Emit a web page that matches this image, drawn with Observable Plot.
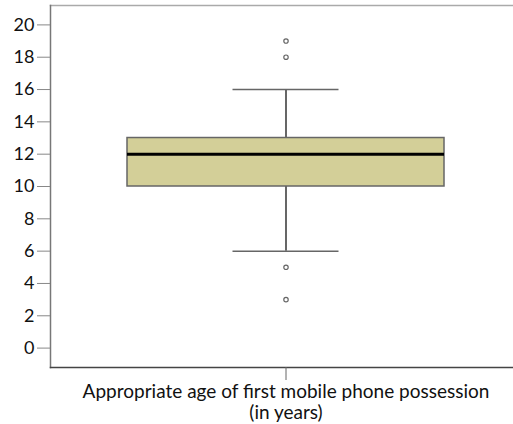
<!DOCTYPE html>
<html>
<head>
<meta charset="utf-8">
<script src="https://cdn.jsdelivr.net/npm/d3@7"></script>
<script src="https://cdn.jsdelivr.net/npm/@observablehq/plot@0.6"></script>
<style>
  html, body { margin: 0; padding: 0; background: #fff; }
  #chart svg { display: block; }
</style>
</head>
<body>
<div id="chart"></div>
<script>
const category = "Appropriate age of first mobile phone possession\n(in years)";
const yTicks = [0, 2, 4, 6, 8, 10, 12, 14, 16, 18, 20];
const q1 = [10];
const median = [12];
const q3 = [13];
const whiskerLow = [6];
const whiskerHigh = [16];
const outliers = [19, 18, 5, 3];

const box = [{cat: category, q1: q1[0], med: median[0], q3: q3[0], lo: whiskerLow[0], hi: whiskerHigh[0]}];
const outs = outliers.map(v => ({cat: category, v}));

const font = "Lato, 'Open Sans', sans-serif";

const chart = Plot.plot({
  width: 513,
  height: 424,
  marginLeft: 50,
  marginTop: 5,
  marginRight: 0,
  marginBottom: 57,
  style: {fontFamily: font, fontSize: "17px", color: "#111", background: "#fff"},
  x: {domain: [category], range: [50, 520], padding: 0.194, label: null},
  y: {domain: [-1.2, 21.2], label: null},
  marks: [
    Plot.frame({anchor: "top", stroke: "#aaa", strokeWidth: 1.5}),
    Plot.frame({anchor: "left", stroke: "#777", strokeWidth: 1.5}),
    Plot.frame({anchor: "bottom", stroke: "#444", strokeWidth: 1.5}),
    Plot.axisY({ticks: yTicks, tickSize: 13, tickPadding: 3, stroke: "#888", fill: "#111", fontSize: 18, label: null, tickFormat: d => String(d)}),
    Plot.axisX({tickSize: 13, tickPadding: 2, stroke: "#666", fill: "#111", fontSize: 19, label: null, lineHeight: 1.12}),
    Plot.ruleX(box, {x: "cat", y1: "q3", y2: "hi", stroke: "#000", strokeWidth: 1.2}),
    Plot.ruleX(box, {x: "cat", y1: "lo", y2: "q1", stroke: "#000", strokeWidth: 1.2}),
    Plot.tickY(box, {x: "cat", y: "hi", stroke: "#666", strokeWidth: 1.5, insetLeft: 105.5, insetRight: 105.5}),
    Plot.tickY(box, {x: "cat", y: "lo", stroke: "#666", strokeWidth: 1.5, insetLeft: 105.5, insetRight: 105.5}),
    Plot.barY(box, {x: "cat", y1: "q1", y2: "q3", fill: "#d3cf98", stroke: "#666", strokeWidth: 1.5}),
    Plot.tickY(box, {x: "cat", y: "med", stroke: "#000", strokeWidth: 3}),
    Plot.dot(outs, {x: "cat", y: "v", r: 2.2, stroke: "#666", fill: "#fff", strokeWidth: 1.2})
  ]
});
document.getElementById("chart").appendChild(chart);
</script>
</body>
</html>
